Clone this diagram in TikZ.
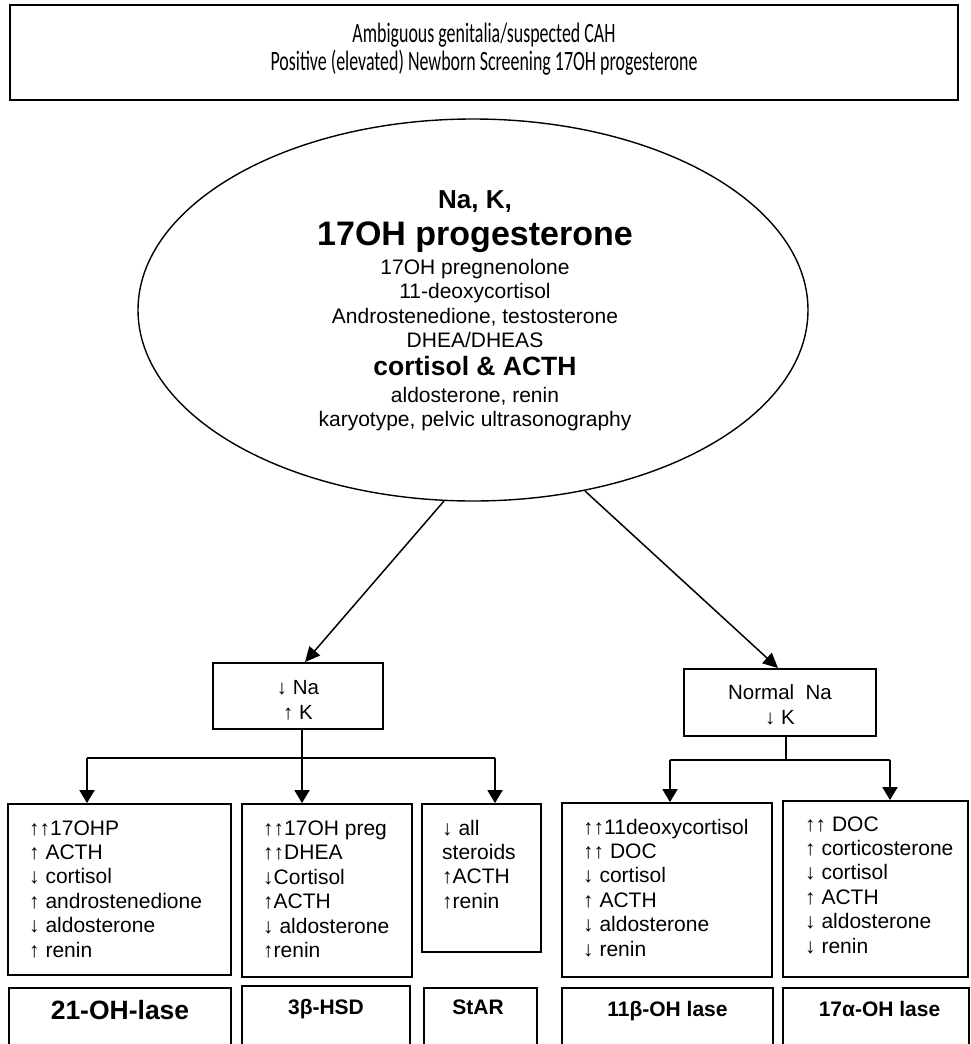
\documentclass[tikz,border=0pt]{standalone}
\usepackage{fontspec}
\setmainfont{Liberation Sans}
\newfontfamily\calib{Carlito}
\usetikzlibrary{arrows.meta,shapes.geometric}
\tikzset{
  box/.style={draw, line width=1.8pt, inner sep=0pt},
  conn/.style={line width=1.8pt},
  arr/.style={line width=1.8pt, -{Triangle[length=13pt,width=15pt]}},
  diag/.style={line width=1.5pt, -{Triangle[length=15pt,width=14pt]}},
  lst/.style={inner sep=0pt, anchor=base west},
  etxt/.style={inner sep=0pt, anchor=base},
  lbl/.style={inner sep=0pt, anchor=base, font=\bfseries\fontsize{21}{25}\selectfont},
}
\newcommand{\lines}[1]{{\fontsize{21}{24.4}\selectfont\begin{tabular}[t]{@{}l@{}}#1\end{tabular}}}
\newcommand{\clines}[1]{{\fontsize{20.5}{25}\selectfont\begin{tabular}[t]{@{}c@{}}#1\end{tabular}}}
\begin{document}
\begin{tikzpicture}[x=1pt,y=-1pt]
\useasboundingbox (0,0) rectangle (971,1044);
\clip (0,0) rectangle (971,1044);
\fill[white] (0,0) rectangle (971,1044);

% top box
\node[box, minimum width=948, minimum height=95] (top) at (484,52.5) {};
\node[inner sep=0pt, anchor=base] (toptxt) at (484,42)
  {\scalebox{0.64}[1]{\calib\fontsize{28}{28}\selectfont\begin{tabular}[t]{@{}c@{}}Ambiguous genitalia/suspected CAH\\Positive (elevated) Newborn Screening 17OH progesterone\end{tabular}}};

% ellipse
\node[ellipse, draw, line width=1.4pt, minimum width=670, minimum height=382, inner sep=0pt] (ell) at (473,310) {};
\node[etxt, font=\bfseries\fontsize{26}{30}\selectfont] (t1) at (475,208) {Na, K,};
\node[etxt, font=\bfseries\fontsize{34}{40}\selectfont] (t2) at (475,245) {17OH progesterone};
\node[etxt, font=\fontsize{21}{24}\selectfont] (t3) at (475,274) {17OH pregnenolone};
\node[etxt, font=\fontsize{21}{24}\selectfont] (t4) at (475,298.5) {11-deoxycortisol};
\node[etxt, font=\fontsize{21}{24}\selectfont] (t5) at (475,323) {Androstenedione, testosterone};
\node[etxt, font=\fontsize{21}{24}\selectfont] (t6) at (475,347) {DHEA/DHEAS};
\node[etxt, font=\bfseries\fontsize{26.5}{30}\selectfont] (t7) at (475,375) {cortisol \& ACTH};
\node[etxt, font=\fontsize{21}{24}\selectfont] (t8) at (475,402) {aldosterone, renin};
\node[etxt, font=\fontsize{21}{24}\selectfont] (t9) at (475,426) {karyotype, pelvic ultrasonography};

% electrolyte boxes
\node[box, minimum width=170, minimum height=66] (b1) at (298,696) {};
\node[etxt] (b1t) at (298,694) {\clines{↓ Na\\↑ K}};
\node[box, minimum width=192, minimum height=67] (b2) at (780,702.5) {};
\node[etxt] (b2t) at (780,699) {\clines{Normal~~Na\\↓ K}};

% diagonal arrows
\coordinate (e1) at (444,501);
\coordinate (e2) at (585,491);
\draw[diag] (e1) -- ([xshift=7pt]b1.north);
\draw[diag] (e2) -- ([xshift=-2pt]b2.north);

% result boxes
\node[box, minimum width=223, minimum height=171] (bA) at (119.5,889.5) {};
\node[box, minimum width=170, minimum height=173] (bB) at (327,890.5) {};
\node[box, minimum width=119, minimum height=148] (bC) at (481.5,878) {};
\node[box, minimum width=210, minimum height=174] (bD) at (667,890) {};
\node[box, minimum width=185, minimum height=176] (bE) at (875.5,889) {};

\node[lst] (tA) at (29,835) {\lines{↑↑17OHP\\↑ ACTH\\↓ cortisol\\↑ androstenedione\\↓ aldosterone\\↑ renin}};
\node[lst] (tB) at (263,835.5) {\lines{↑↑17OH preg\\↑↑DHEA\\↓Cortisol\\↑ACTH\\↓ aldosterone\\↑renin}};
\node[lst] (tC) at (442,835) {\lines{↓ all\\steroids\\↑ACTH\\↑renin}};
\node[lst] (tD) at (583,834) {\lines{↑↑11deoxycortisol\\↑↑ DOC\\↓ cortisol\\↑ ACTH\\↓ aldosterone\\↓ renin}};
\node[lst] (tE) at (805,831) {\lines{↑↑ DOC\\↑ corticosterone\\↓ cortisol\\↑ ACTH\\↓ aldosterone\\↓ renin}};

% branch connectors left
\coordinate (j1) at (302,758);
\coordinate (l1) at (87,758);
\coordinate (r1) at (495,758);
\draw[conn] (j1 |- b1.south) -- (j1);
\draw[conn] (l1) -- (r1);
\draw[arr] (l1) -- (l1 |- bA.north);
\draw[arr] (j1) -- (j1 |- bB.north);
\draw[arr] (r1) -- (r1 |- bC.north);

% branch connectors right
\coordinate (j2) at (786,760);
\coordinate (l2) at (670,760);
\coordinate (r2) at (890,760);
\draw[conn] (j2 |- b2.south) -- (j2);
\draw[conn] (l2) -- (r2);
\draw[arr] (l2) -- (l2 |- bD.north);
\draw[arr] (r2) -- (r2 |- bE.north);

% enzyme label boxes (open at the bottom edge)
\node[box, minimum width=222, minimum height=80] (nA) at (120,1028) {};
\node[box, minimum width=168, minimum height=82] (nB) at (326,1027) {};
\node[box, minimum width=113, minimum height=80] (nC) at (480.5,1028) {};
\node[box, minimum width=211, minimum height=80] (nD) at (667.5,1028) {};
\node[box, minimum width=186, minimum height=80] (nE) at (876,1028) {};
\node[lbl, font=\bfseries\fontsize{26.5}{30}\selectfont] (lA) at (120,1019) {21-OH-lase};
\node[lbl] (lB) at (326,1014) {3β-HSD};
\node[lbl] (lC) at (478,1014) {StAR};
\node[lbl] (lD) at (667.5,1016) {11β-OH lase};
\node[lbl] (lE) at (879.5,1016) {17α-OH lase};
\end{tikzpicture}
\end{document}
